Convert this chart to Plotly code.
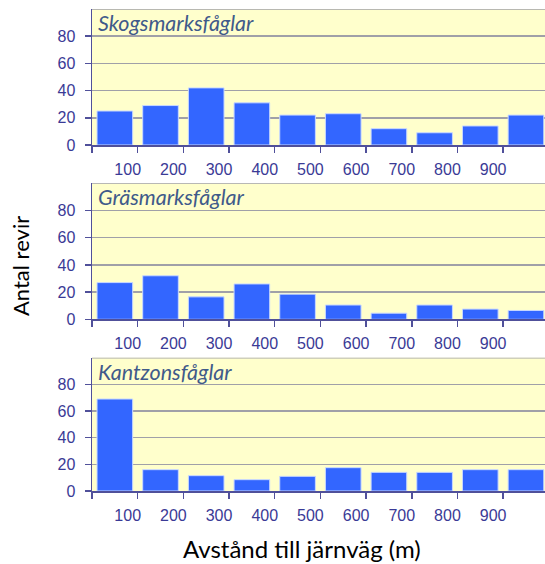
import plotly.graph_objects as go

# Data
bin_mid = [50, 150, 250, 350, 450, 550, 650, 750, 850, 950]
tick_vals = [0, 100, 200, 300, 400, 500, 600, 700, 800, 900]
tick_text = ["", "100", "200", "300", "400", "500", "600", "700", "800", "900"]
y_ticks = [0, 20, 40, 60, 80]

panel_names = ["Skogsmarksfåglar", "Gräsmarksfåglar", "Kantzonsfåglar"]
skog = [25, 29, 42, 31, 22, 23, 12, 9, 14, 22]
gras = [27, 32, 16.5, 26, 18.5, 10.5, 4.5, 10.5, 7.5, 6.5]
kant = [69, 16, 11.5, 8.5, 11, 17.5, 14, 14, 16, 16]
series = [skog, gras, kant]

y_title = "Antal revir"
x_title = "Avstånd till järnväg (m)"

W, H = 545, 564
x_left_px = 92
px_per_100 = 45.68
x_max = (W - x_left_px) / px_per_100 * 100
panels_px = [(9, 145), (183.3, 319.3), (357.7, 491)]

axis_col = "#50509a"
grid_col = "#a0a0a8"
tick_font = dict(family="Liberation Sans, Arial", size=16, color="#3a3a96")

fig = go.Figure()
for i, (name, vals) in enumerate(zip(panel_names, series)):
    n = "" if i == 0 else str(i + 1)
    fig.add_trace(go.Bar(
        x=bin_mid, y=vals, width=78, xaxis="x" + n, yaxis="y" + n,
        marker=dict(color="#3366ff", line=dict(color="#c8d8ff", width=1)),
        showlegend=False, hoverinfo="skip"))
    top, bot = panels_px[i]
    dom = [1 - bot / H, 1 - top / H]
    fig.update_layout(**{
        "xaxis" + n: dict(
            domain=[x_left_px / W, 1], range=[0, x_max], anchor="y" + n,
            tickvals=tick_vals, ticktext=tick_text, ticks="outside", ticklen=6,
            tickcolor=axis_col, tickwidth=1.5, showline=True, linecolor=axis_col,
            linewidth=1.5, showgrid=False, zeroline=False, tickfont=tick_font,
            ticklabelshift=-10, ticklabelstandoff=3, fixedrange=True, automargin=False),
        "yaxis" + n: dict(
            domain=dom, range=[0, 100], anchor="x" + n,
            tickvals=y_ticks, ticks="outside", ticklen=6, tickcolor=axis_col,
            tickwidth=1.5, showline=True, linecolor=axis_col, linewidth=1.5,
            showgrid=True, gridcolor=grid_col, gridwidth=1.5, zeroline=False,
            tickfont=tick_font, ticklabelstandoff=6, fixedrange=True, automargin=False),
    })
    fig.add_shape(type="line", xref="x" + n, yref="y" + n, x0=0, x1=x_max,
                  y0=100, y1=100, line=dict(color=grid_col, width=1.5), layer="below")
    fig.add_annotation(text=name, xref="paper", yref="paper",
                       x=96 / W, y=1 - (top + 14) / H, xanchor="left", yanchor="middle",
                       showarrow=False,
                       font=dict(family="Lato", size=21.5, color="#405a8a", style="italic"))

fig.add_annotation(text=y_title, xref="paper", yref="paper", x=20 / W, y=1 - 266 / H,
                   textangle=-90, showarrow=False, xanchor="center", yanchor="middle",
                   font=dict(family="Lato", size=22, color="#000000"))
fig.add_annotation(text=x_title, xref="paper", yref="paper", x=302 / W, y=1 - 548 / H,
                   showarrow=False, xanchor="center", yanchor="middle",
                   font=dict(family="Lato", size=24, color="#000000"))

fig.update_layout(width=W, height=H, margin=dict(l=0, r=0, t=0, b=0, autoexpand=False),
                  paper_bgcolor="white", plot_bgcolor="#ffffcc", bargap=0.2)
fig.write_html("out.html", config={"displayModeBar": False, "staticPlot": True},
               post_script="document.body.style.margin='0';document.body.style.overflow='hidden';")
